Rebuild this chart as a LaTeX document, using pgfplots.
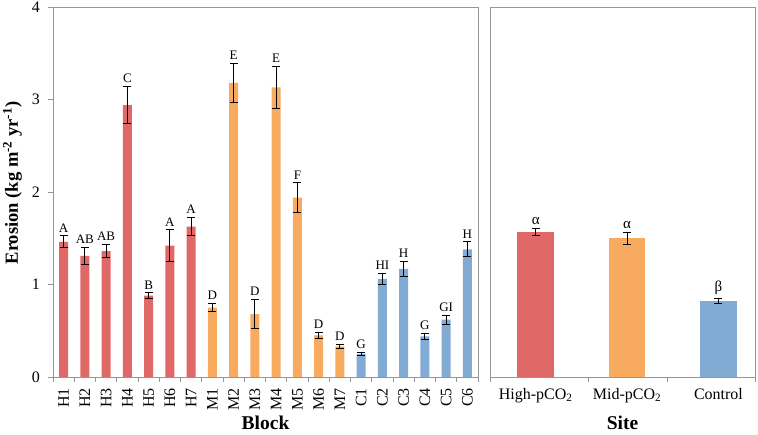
\documentclass[border=0pt]{standalone}
\usepackage{pgfplots}
\pgfplotsset{compat=1.18}
\usepackage{pgfplotstable}
\usepackage{fontspec}
\setmainfont{Liberation Serif}
\definecolor{cH}{RGB}{224,104,103}
\definecolor{cM}{RGB}{248,170,95}
\definecolor{cC}{RGB}{130,171,212}
\definecolor{axisgray}{RGB}{150,150,150}

\pgfplotstableread{
x y err lab
0 1.46 0.065 A
1 1.31 0.09 AB
2 1.36 0.07 AB
3 2.94 0.20 C
4 0.88 0.03 B
5 1.42 0.17 A
6 1.625 0.10 A
}\tH
\pgfplotstableread{
x y err lab
7 0.75 0.045 D
8 3.18 0.21 E
9 0.68 0.16 D
10 3.13 0.23 E
11 1.94 0.16 F
12 0.45 0.03 D
13 0.33 0.02 D
}\tM
\pgfplotstableread{
x y err lab
14 0.25 0.015 G
15 1.06 0.06 HI
16 1.17 0.08 H
17 0.44 0.03 G
18 0.62 0.05 GI
19 1.38 0.08 H
}\tC
\pgfplotstableread{
x y err lab
0 1.57 0.04 α
1 1.50 0.065 α
2 0.82 0.03 β
}\tS

\begin{document}
\begin{tikzpicture}
\pgfplotsset{
  common/.style={
    scale only axis, ymin=0, ymax=4, height=370pt,
    axis line style={draw=axisgray, line width=0.8pt},
    tick style={draw=axisgray, line width=0.8pt},
    tick align=outside, major tick length=5pt, minor tick length=5pt,
    xtick pos=bottom, ytick pos=left,
    major x tick style={draw=none},
    tick label style={font=\fontsize{16}{19}\selectfont, inner sep=0pt},
    label style={font=\bfseries\fontsize{19.5}{22}\selectfont},
    /pgf/number format/assume math mode=true,
    clip=false,
    xlabel style={at={([yshift=-45.5pt]axis description cs:0.5,0)}, anchor=center},
  },
  bars/.style={ybar, bar width=9pt, bar shift=0pt, draw=none, fill=#1,
    /pgfplots/error bars/y dir=both, /pgfplots/error bars/y explicit,
    /pgfplots/error bars/error bar style={draw=black, line width=1pt},
    /pgfplots/error bars/error mark options={rotate=90, draw=black, mark size=4pt, line width=1pt}},
  letters/.style={draw=none, mark=none, nodes near coords, point meta=explicit symbolic,
    nodes near coords style={anchor=south, inner sep=0pt, yshift=3.5pt,
      font=\fontsize{#1}{16}\selectfont, text=black}},
}
\begin{axis}[common,
  at={(53pt,58pt)}, anchor=south west, width=425pt,
  xmin=-0.5, xmax=19.5,
  xtick={0,...,19},
  xticklabels={H1,H2,H3,H4,H5,H6,H7,M1,M2,M3,M4,M5,M6,M7,C1,C2,C3,C4,C5,C6},
  minor xtick={-0.5,0.5,...,19.5},
  ytick={0,1,2,3,4},
  xticklabel style={rotate=90, anchor=east},
  xticklabel shift=6pt,
  yticklabel shift=8pt,
  xlabel={Block},
  ylabel={Erosion (kg m\textsuperscript{-2} yr\textsuperscript{-1})},
  ylabel style={at={([xshift=-40.5pt,yshift=9pt]axis description cs:0,0.5)}, anchor=center,
    font=\bfseries\fontsize{18.5}{21}\selectfont},
]
\addplot[bars=cH] table[x=x, y=y, y error=err] {\tH};
\addplot[bars=cM] table[x=x, y=y, y error=err] {\tM};
\addplot[bars=cC] table[x=x, y=y, y error=err] {\tC};
\addplot[letters=13] table[x=x, y expr=\thisrow{y}+\thisrow{err}, meta=lab] {\tH};
\addplot[letters=13] table[x=x, y expr=\thisrow{y}+\thisrow{err}, meta=lab] {\tM};
\addplot[letters=13] table[x=x, y expr=\thisrow{y}+\thisrow{err}, meta=lab] {\tC};
\end{axis}
\begin{axis}[common,
  at={(490pt,58pt)}, anchor=south west, width=265pt,
  xmin=-0.5, xmax=2.4,
  xtick={0,1,2},
  xticklabels={High-pCO\textsubscript{2}, Mid-pCO\textsubscript{2}, Control},
  minor xtick={-0.5,0.58,1.44,2.4},
  ytick=\empty,
  xticklabel shift=6pt,
  xlabel={Site},
]
\addplot[bars=cH, bar width=36.5pt] table[x=x, y=y, y error=err] {
x y err
0 1.57 0.04
};
\addplot[bars=cM, bar width=36.5pt] table[x=x, y=y, y error=err] {
x y err
1 1.50 0.065
};
\addplot[bars=cC, bar width=36.5pt] table[x=x, y=y, y error=err] {
x y err
2 0.82 0.03
};
\addplot[letters=15] table[x=x, y expr=\thisrow{y}+\thisrow{err}, meta=lab] {\tS};
\end{axis}
\pgfresetboundingbox
\useasboundingbox (0,0) rectangle (758pt,435pt);
\end{tikzpicture}
\end{document}
